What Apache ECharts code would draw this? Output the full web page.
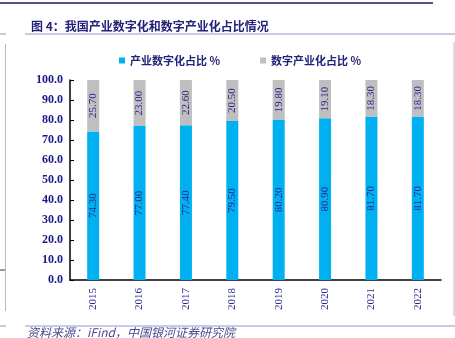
<!DOCTYPE html>
<html>
<head>
<meta charset="utf-8">
<script src="https://cdn.jsdelivr.net/npm/echarts@6/dist/echarts.min.js"></script>
<style>html,body{margin:0;padding:0;background:#fff;}#c{width:455px;height:338px;}</style>
</head>
<body>
<div id="c"></div>
<script>
const years = ['2015','2016','2017','2018','2019','2020','2021','2022'];
const industryDigital = [74.30, 77.00, 77.40, 79.50, 80.20, 80.90, 81.70, 81.70];
const digitalIndustry = [25.70, 23.00, 22.60, 20.50, 19.80, 19.10, 18.30, 18.30];
const seriesNames = ['产业数字化占比 %', '数字产业化占比 %'];
const titleText = '图 4：我国产业数字化和数字产业化占比情况';
const sourceText = '资料来源：iFind，中国银河证券研究院';

const navy = '#23237a';
const serif = '"Liberation Serif", "Times New Roman", serif';
const cjk = '"Noto Sans CJK SC", sans-serif';

const chart = echarts.init(document.getElementById('c'), null, {renderer: 'canvas'});
const labelCfg = {
  show: true, position: 'inside', rotate: 90, color: '#26268a',
  fontFamily: serif, fontSize: 11,
  formatter: p => p.value.toFixed(2)
};
chart.setOption({
  animation: false,
  title: {
    text: titleText, left: 26, top: 15,
    textStyle: {fontFamily: cjk, fontSize: 12, fontWeight: 'bold', color: navy}
  },
  legend: {
    top: 50, left: 114, itemGap: 40, itemWidth: 6, itemHeight: 6, icon: 'rect',
    textStyle: {fontFamily: cjk, fontSize: 11, fontWeight: 'bold', color: navy},
    data: seriesNames
  },
  grid: {left: 70, right: 14, top: 80, bottom: 58},
  xAxis: {
    type: 'category', data: years,
    axisLine: {lineStyle: {color: '#000', width: 1.5}},
    axisTick: {inside: true, length: 4, lineStyle: {color: '#000'}},
    axisLabel: {rotate: 90, color: '#26268a', fontFamily: serif, fontSize: 11, margin: 8}
  },
  yAxis: {
    type: 'value', min: 0, max: 100, interval: 10,
    splitLine: {show: false},
    axisLine: {show: true, lineStyle: {color: '#000', width: 1.5}},
    axisTick: {show: true, inside: true, length: 4, lineStyle: {color: '#000'}},
    axisLabel: {color: '#1a1a8a', fontFamily: serif, fontSize: 12, fontWeight: 'bold', margin: 7,
      formatter: v => v.toFixed(1)}
  },
  series: [
    {name: seriesNames[0], type: 'bar', stack: 's', data: industryDigital, barWidth: 12,
     itemStyle: {color: '#00B0F0'}, label: labelCfg},
    {name: seriesNames[1], type: 'bar', stack: 's', data: digitalIndustry, barWidth: 12,
     itemStyle: {color: '#BFBFBF'}, label: labelCfg}
  ],
  graphic: [
    {type: 'line', shape: {x1: 0, y1: 3, x2: 433, y2: 3}, style: {stroke: '#1a1a60', lineWidth: 1.5}},
    {type: 'line', shape: {x1: 25, y1: 34, x2: 455, y2: 34}, style: {stroke: '#9a94d0', lineWidth: 1}},
    {type: 'line', shape: {x1: 0, y1: 34, x2: 6, y2: 34}, style: {stroke: '#9a94d0', lineWidth: 1}},
    {type: 'line', shape: {x1: 5.5, y1: 44, x2: 5.5, y2: 311}, style: {stroke: '#bbbbbb', lineWidth: 1}},
    {type: 'line', shape: {x1: 0, y1: 270, x2: 5, y2: 270}, style: {stroke: '#333', lineWidth: 1}},
    {type: 'line', shape: {x1: 454, y1: 42, x2: 454, y2: 316}, style: {stroke: '#bbbbbb', lineWidth: 1}},
    {type: 'line', shape: {x1: 25, y1: 326, x2: 455, y2: 326}, style: {stroke: '#9a94d0', lineWidth: 1}},
    {type: 'line', shape: {x1: 0, y1: 326, x2: 6, y2: 326}, style: {stroke: '#9a94d0', lineWidth: 1}},
    {type: 'text', left: 27, top: 326,
     style: {text: sourceText, fontFamily: cjk, fontSize: 12, fontStyle: 'italic', fill: '#4a4a90'}}
  ]
});
</script>
</body>
</html>
